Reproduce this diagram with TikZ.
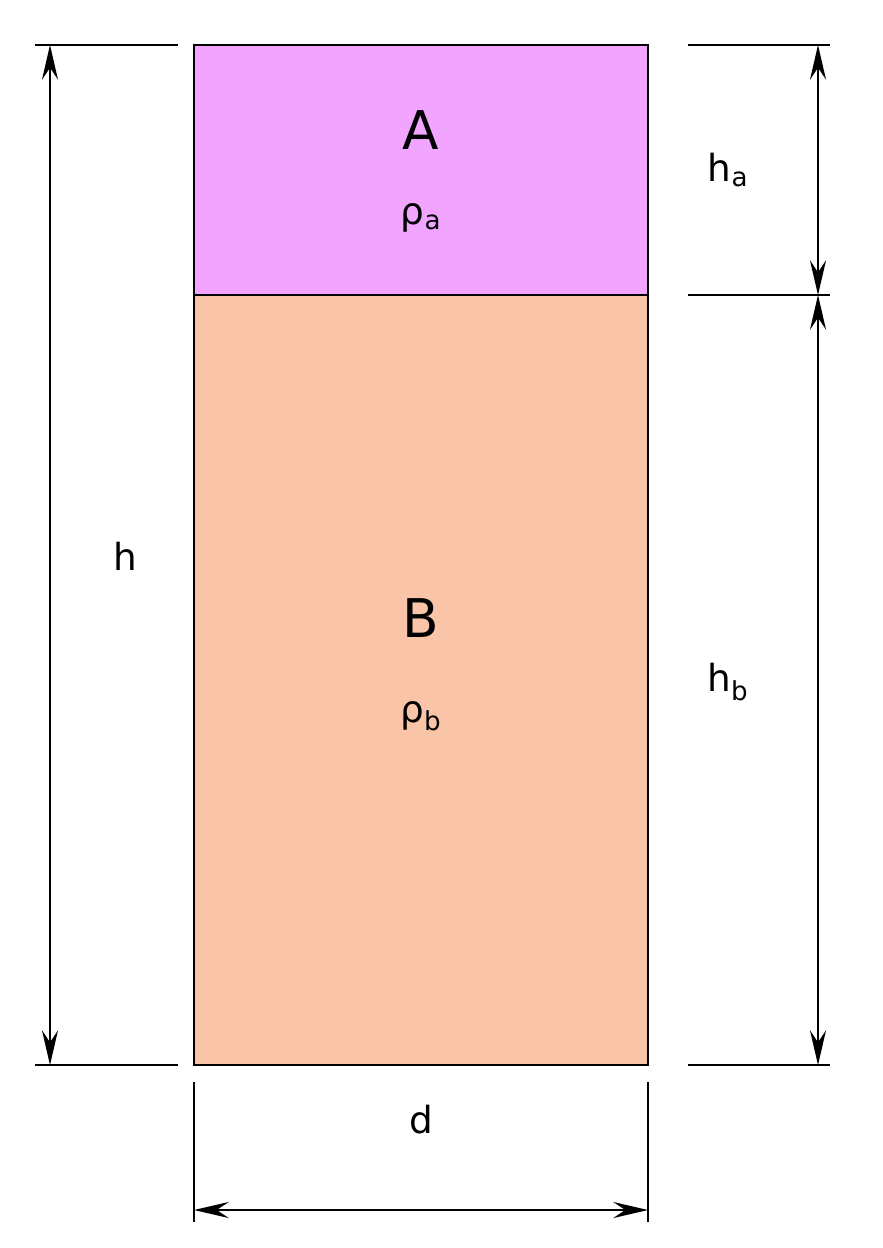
\documentclass[tikz,border=0pt]{standalone}
\usepackage{fontspec}
\setmainfont{DejaVu Sans}
\usetikzlibrary{arrows.meta}
\definecolor{layerA}{RGB}{241,165,255}
\definecolor{layerB}{RGB}{249,196,168}
\tikzset{
  dimline/.style={line width=2.2pt,{Stealth[length=26pt,width=12pt,inset=9pt]}-{Stealth[length=26pt,width=12pt,inset=9pt]}},
  extline/.style={line width=2.2pt},
  big/.style={font=\fontsize{40}{44}\selectfont},
  lab/.style={font=\fontsize{28}{32}\selectfont}
}
\begin{document}
\begin{tikzpicture}[x=0.75pt,y=0.75pt,yscale=-1,xscale=1]
\useasboundingbox (0,0) rectangle (882,1248);

%Layers
\fill[layerA] (194,45) rectangle (648,295);
\fill[layerB] (194,295) rectangle (648,1065);
\draw[extline] (194,45) rectangle (648,1065);
\draw[extline] (194,295) -- (648,295);

% Text Node
\node[big] (A) at (421,130) {A};
\node[lab] (rhoa) at (421,218) {ρ\textsubscript{a}};
\node[big] (B) at (421,618) {B};
\node[lab] (rhob) at (421,716) {ρ\textsubscript{b}};

%Extension lines
\draw[extline] (35,45) -- (178,45);
\draw[extline] (35,1065) -- (178,1065);
\draw[extline] (688,45) -- (830,45);
\draw[extline] (688,295) -- (830,295);
\draw[extline] (688,1065) -- (830,1065);
\draw[extline] (194,1082) -- (194,1222);
\draw[extline] (648,1082) -- (648,1222);

%Dimensions
\coordinate (htop) at (50,45);
\coordinate (hbot) at (50,1065);
\draw[dimline] (htop) -- (hbot);
\node[lab] (h) at (125,556) {h};

\coordinate (ratop) at (818,45);
\coordinate (ramid) at (818,295);
\coordinate (rabot) at (818,1065);
\draw[dimline] (ratop) -- (ramid);
\draw[dimline] (ramid) -- (rabot);
\node[lab] (ha) at (728,170) {h\textsubscript{a}};
\node[lab] (hb) at (728,682) {h\textsubscript{b}};

\coordinate (dleft) at (194,1210);
\coordinate (dright) at (648,1210);
\draw[dimline] (dleft) -- (dright);
\node[lab] (d) at (421,1120) {d};
\end{tikzpicture}
\end{document}
